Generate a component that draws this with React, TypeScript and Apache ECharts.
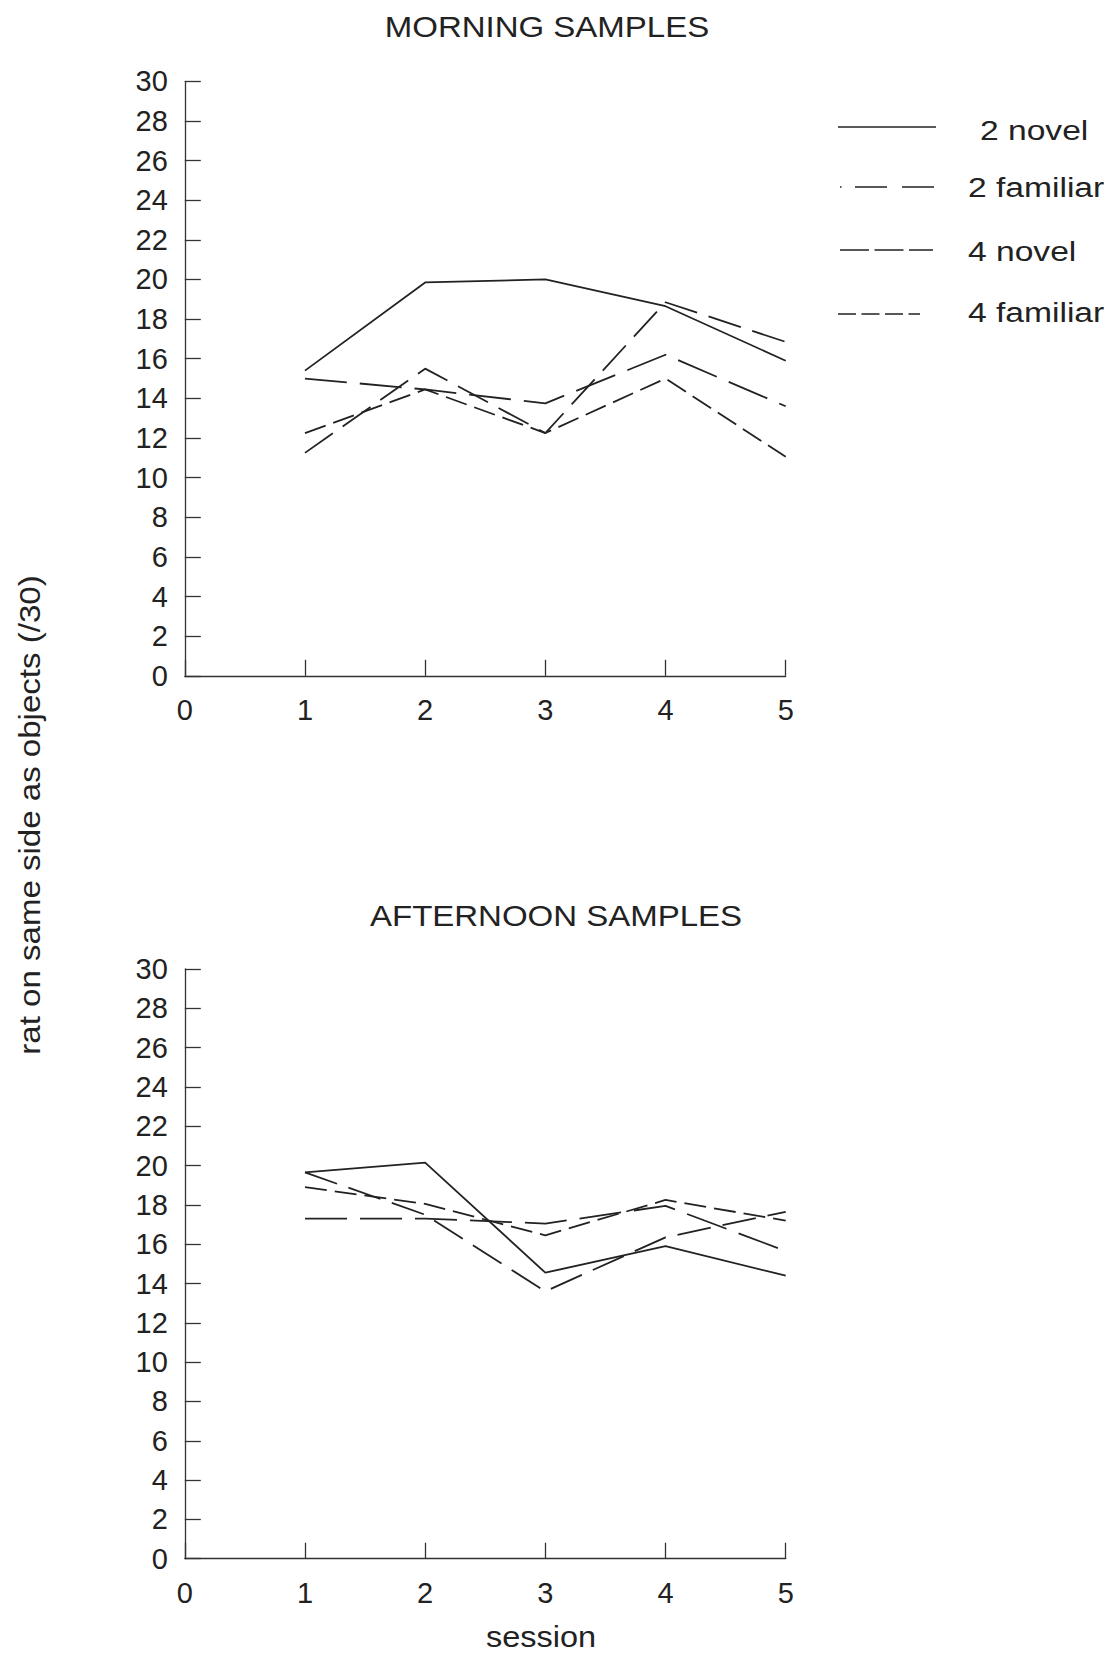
import React, { useEffect, useRef } from "react";
import * as echarts from "echarts";

const sessions = [1, 2, 3, 4, 5];
const xTicks = [0, 1, 2, 3, 4, 5];
const yTickStep = 2;

const seriesNames = ["2 novel", "2 familiar", "4 novel", "4 familiar"];

const morning2Novel = [15.4, 19.85, 20.0, 18.65, 15.9];
const morning2Familiar = [15.0, 14.45, 13.75, 16.2, 13.6];
const morning4Novel = [11.25, 15.5, 12.25, 18.85, 16.85];
const morning4Familiar = [12.25, 14.45, 12.25, 15.0, 11.05];

const afternoon2Novel = [19.65, 20.15, 14.55, 15.9, 14.4];
const afternoon2Familiar = [17.3, 17.3, 17.05, 17.95, 15.65];
const afternoon4Novel = [19.65, 17.5, 13.6, 16.35, 17.65];
const afternoon4Familiar = [18.9, 18.05, 16.45, 18.25, 17.2];

const titles = ["MORNING SAMPLES", "AFTERNOON SAMPLES"];
const xName = "session";
const yName = "rat on same side as objects (/30)";

const FONT = "'Liberation Sans', Arial, sans-serif";
const INK = "#222";
const AXIS = "#333";

const dashes: (string | number[])[] = ["solid", [42, 13], [34, 12], [22, 8]];

export default function App() {
  const ref = useRef<HTMLDivElement>(null);
  useEffect(() => {
    if (!ref.current) return;
    const chart = echarts.init(ref.current, null, { renderer: "svg" });

    const grids = [
      { left: 184.8, top: 81.3, width: 600.9, height: 594.5 },
      { left: 184.8, top: 969, width: 600.9, height: 589.7 },
    ];

    const mkX = (gi: number) => ({
      gridIndex: gi,
      type: "value",
      min: xTicks[0],
      max: xTicks[xTicks.length - 1],
      interval: 1,
      axisLine: { show: true, lineStyle: { color: AXIS, width: 1.3 } },
      axisTick: { show: true, inside: true, length: 16, lineStyle: { color: AXIS, width: 1.3 } },
      axisLabel: { show: true, margin: 20, fontSize: 29, color: INK, fontFamily: FONT, showMinLabel: true, showMaxLabel: true },
      splitLine: { show: false },
    });
    const mkY = (gi: number) => ({
      gridIndex: gi,
      type: "value",
      min: 0,
      max: 30,
      interval: yTickStep,
      axisLine: { show: true, lineStyle: { color: AXIS, width: 1.3 } },
      axisTick: { show: true, inside: true, length: 16, lineStyle: { color: AXIS, width: 1.3 } },
      axisLabel: { show: true, margin: 17, fontSize: 29, color: INK, fontFamily: FONT, showMinLabel: true, showMaxLabel: true },
      splitLine: { show: false },
    });

    const groups = [
      [morning2Novel, morning2Familiar, morning4Novel, morning4Familiar],
      [afternoon2Novel, afternoon2Familiar, afternoon4Novel, afternoon4Familiar],
    ];

    const series: any[] = [];
    groups.forEach((g, gi) => {
      g.forEach((vals, si) => {
        series.push({
          type: "line",
          name: seriesNames[si],
          xAxisIndex: gi,
          yAxisIndex: gi,
          data: sessions.map((s, i) => [s, vals[i]]),
          symbol: "none",
          showSymbol: false,
          silent: true,
          lineStyle: { color: INK, width: 1.8, type: dashes[si] },
        });
      });
    });

    const legendRows = [
      { lineY: 127, textY: 130, x1: 838, x2: 936, dash: null as number[] | null, textX: 980 },
      { lineY: 187, textY: 187, x1: 840, x2: 934, dash: [1.5, 13.5, 32, 15, 32, 200], textX: 968 },
      { lineY: 250, textY: 251, x1: 840, x2: 933, dash: [29, 5.5], textX: 968 },
      { lineY: 314, textY: 312, x1: 838, x2: 920, dash: [18, 5.5], textX: 968 },
    ];

    const graphic: any[] = [];
    const addText = (text: string, x: number, y: number, fontSize: number, scaleX: number, align: string, rotation = 0) => {
      graphic.push({
        type: "text",
        x,
        y,
        scaleX,
        rotation,
        silent: true,
        style: {
          text,
          fontSize,
          fontFamily: FONT,
          fill: INK,
          align,
          textAlign: align,
          verticalAlign: "middle",
          textVerticalAlign: "middle",
        },
      });
    };
    addText(titles[0], 547, 27, 30, 1.1, "center");
    addText(titles[1], 556, 916, 30, 1.1, "center");
    addText(xName, 541, 1637, 29, 1.12, "center");
    addText(yName, 30, 815, 29, 1.14, "center", Math.PI / 2);

    legendRows.forEach((r, i) => {
      graphic.push({
        type: "line",
        silent: true,
        shape: { x1: r.x1, y1: r.lineY, x2: r.x2, y2: r.lineY },
        style: { stroke: INK, lineWidth: 1.5, lineDash: r.dash || undefined },
      });
      addText(seriesNames[i], r.textX, r.textY, 28, 1.2, "left");
    });

    chart.setOption({
      animation: false,
      backgroundColor: "#ffffff",
      grid: grids,
      xAxis: [mkX(0), mkX(1)],
      yAxis: [mkY(0), mkY(1)],
      series,
      graphic,
    });
    return () => chart.dispose();
  }, []);

  return (
    <div
      ref={ref}
      style={{ position: "absolute", left: 0, top: 0, width: 1113, height: 1655, background: "#fff" }}
    />
  );
}
